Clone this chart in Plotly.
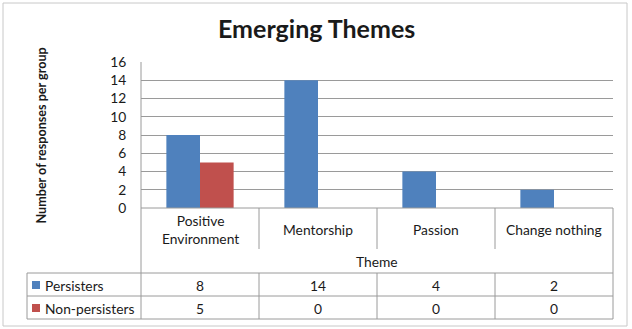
import plotly.graph_objects as go

categories = ["Positive Environment", "Mentorship", "Passion", "Change nothing"]
cat_labels = ["Positive<br>Environment", "Mentorship", "Passion", "Change nothing"]
persisters = [8, 14, 4, 2]
non_persisters = [5, 0, 0, 0]
series = [("Persisters", persisters, "#4F81BD"), ("Non-persisters", non_persisters, "#C0504D")]

W, H = 632, 329
L, R, T, B = 141, 613, 62, 208  # plot area in pixels


def px(x):
    return (x - L) / (R - L)


def py(y):
    return (B - y) / (B - T)


FONT = "Lato, Carlito, Calibri, sans-serif"
TXT = "#1a1a1a"
LINE = "#9a9a9a"
FS = 13.8

fig = go.Figure()
for name, vals, col in series:
    fig.add_trace(go.Bar(x=categories, y=vals, name=name, marker=dict(color=col, line=dict(width=0))))

shapes = []
annos = []


def hline(x0, x1, y, color=LINE):
    shapes.append(dict(type="line", xref="paper", yref="paper", x0=px(x0), x1=px(x1), y0=py(y), y1=py(y),
                       line=dict(color=color, width=1)))


def vline(x, y0, y1, color=LINE):
    shapes.append(dict(type="line", xref="paper", yref="paper", x0=px(x), x1=px(x), y0=py(y0), y1=py(y1),
                       line=dict(color=color, width=1)))


# outer chart border
shapes.append(dict(type="rect", xref="paper", yref="paper", x0=px(3), x1=px(627), y0=py(3), y1=py(326),
                   line=dict(color="#c8c8c8", width=1)))

# table lines
row_theme_bottom = 273
row_p_bottom = 296
row_n_bottom = 319
tab_left = 27
hline(L, R, B)
hline(tab_left, R, row_theme_bottom)
hline(tab_left, R, row_p_bottom)
hline(tab_left, R, row_n_bottom)
vline(tab_left, row_theme_bottom, row_n_bottom)
vline(L, T, row_n_bottom)
vline(R, B, row_n_bottom)
cw = (R - L) / len(categories)
for i in range(1, len(categories)):
    x = L + i * cw
    vline(x, B, 249)
    vline(x, row_theme_bottom, row_n_bottom)

# category labels and values in the table, placed on the category axis
for c, lab, p, n in zip(categories, cat_labels, persisters, non_persisters):
    annos.append(dict(x=c, xref="x", y=py(229), yref="paper", text=lab, showarrow=False,
                      font=dict(size=FS, color=TXT, family=FONT), yanchor="middle"))
    annos.append(dict(x=c, xref="x", y=py(285), yref="paper", text=str(p), showarrow=False,
                      font=dict(size=FS, color=TXT, family=FONT), yanchor="middle"))
    annos.append(dict(x=c, xref="x", y=py(308), yref="paper", text=str(n), showarrow=False,
                      font=dict(size=FS, color=TXT, family=FONT), yanchor="middle"))

annos.append(dict(x=0.5, xref="paper", y=py(261), yref="paper", text="Theme", showarrow=False,
                  font=dict(size=FS, color=TXT, family=FONT), yanchor="middle"))

# legend keys in the table
for (name, vals, col), yc in zip(series, [285, 308]):
    shapes.append(dict(type="rect", xref="paper", yref="paper", x0=px(32), x1=px(40), y0=py(yc - 4), y1=py(yc + 4),
                       fillcolor=col, line=dict(width=0)))
    annos.append(dict(x=px(43), xref="paper", y=py(yc), yref="paper", text=name, showarrow=False, xanchor="left",
                      font=dict(size=FS, color=TXT, family=FONT), yanchor="middle"))

# y axis title
annos.append(dict(x=px(31), xref="paper", y=py(136), yref="paper", text="<b>Number of responses per group</b>",
                  showarrow=False, textangle=-90, font=dict(size=12.6, color=TXT, family=FONT)))
# chart title
annos.append(dict(x=px(316), xref="paper", y=py(28), yref="paper", text="<b>Emerging Themes</b>",
                  showarrow=False, font=dict(size=25, color=TXT, family=FONT), yanchor="middle"))

fig.update_layout(
    width=W, height=H,
    margin=dict(l=L, r=W - R, t=T, b=H - B),
    paper_bgcolor="white", plot_bgcolor="white",
    showlegend=False,
    barmode="group", bargap=0.43, bargroupgap=0,
    shapes=shapes, annotations=annos,
    xaxis=dict(showticklabels=False, showgrid=False, zeroline=False, showline=False, ticks=""),
    yaxis=dict(range=[0, 16], dtick=2, showgrid=True, gridcolor=LINE, gridwidth=1, zeroline=False,
               showline=False, ticks="outside", ticklen=11, tickcolor="rgba(0,0,0,0)",
               tickfont=dict(size=FS, color=TXT, family=FONT)),
)

fig.write_html("out.html")
